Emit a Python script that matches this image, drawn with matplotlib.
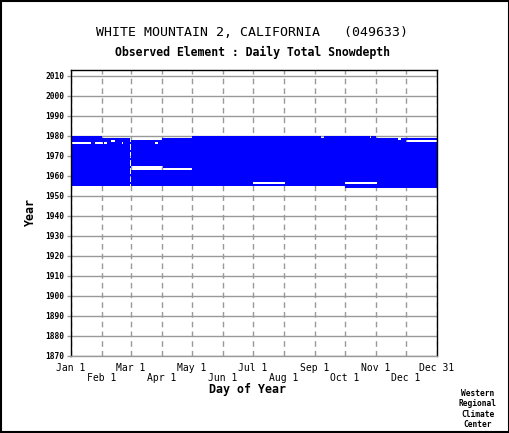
import calendar
import numpy as np
import matplotlib
matplotlib.use("Agg")
import matplotlib.pyplot as plt
from matplotlib.colors import ListedColormap
from matplotlib.patches import Rectangle

# period of record (day-of-year on a 366 day axis)
first_year = 1954
first_day = 275      # Oct 1 1954
last_year = 1979

# missing stretches: year, first day, last day
gap_year = [1956, 1956, 1963, 1964, 1976, 1976, 1976, 1976, 1976,
            1977, 1977, 1978, 1978, 1979, 1979, 1979, 1979]
gap_start = [183, 275, 61, 61, 1, 25, 34, 52, 85,
             41, 336, 61, 328, 32, 251, 300, 306]
gap_end = [214, 306, 121, 92, 20, 32, 36, 52, 87,
           44, 366, 91, 330, 121, 253, 300, 366]

month_days = [1, 32, 61, 92, 122, 153, 183, 214, 245, 275, 306, 336, 367]
month_labels = ["Jan 1", "\nFeb 1", "Mar 1", "\nApr 1", "May 1", "\nJun 1",
                "Jul 1", "\nAug 1", "Sep 1", "\nOct 1", "Nov 1", "\nDec 1", "Dec 31"]
year_ticks = list(range(1870, 2011, 10))

W, H = 510, 433
MONO = "DejaVu Sans Mono"


def fx(px):
	return px / W


def fy(py):
	return 1 - py / H


# coverage grid: 1 = observed, 0 = missing
n_years = last_year - first_year + 1
cover = np.ones((n_years, 366))
cover[0, :first_day - 1] = 0
for i in range(n_years):
	if not calendar.isleap(first_year + i):
		cover[i, 59] = 0   # no Feb 29
for y, s, e in zip(gap_year, gap_start, gap_end):
	cover[y - first_year, s - 1:e] = 0
cover = np.ma.masked_equal(cover, 0)

fig = plt.figure(figsize=(W / 100, H / 100), dpi=100)
# outer frame round the whole picture
fig.patches.append(Rectangle((1 / W, 1 / H), 1 - 2 / W, 1 - 2 / H,
                             transform=fig.transFigure, fill=False,
                             edgecolor="black", lw=1.5))

ax = fig.add_axes([fx(71), fy(355.7), fx(437) - fx(71), (355.7 - 70) / H])
ax.imshow(cover, origin="lower", aspect="auto", interpolation="nearest",
          extent=(1, 367, first_year, last_year + 1),
          cmap=ListedColormap(["#0000ff"]), zorder=1)

ax.set_xlim(1, 367)
ax.set_ylim(1870, 2012.85)
ax.set_axisbelow(True)

ax.set_yticks(year_ticks)
ax.set_yticklabels([str(y) for y in year_ticks], fontfamily=MONO,
                   fontweight="bold", fontsize=5.7)
ax.set_xticks(month_days)
ax.set_xticklabels(month_labels, fontfamily=MONO, fontsize=7, linespacing=1.0)

ax.yaxis.grid(True, color="#999999", lw=1, ls="-")
ax.xaxis.grid(True, color="#999999", lw=1, ls=(0, (4, 3)))
ax.tick_params(axis="y", length=2.9, width=1, color="#999999", pad=2)
ax.tick_params(axis="x", length=0, pad=5.5)

for side in ["left", "right", "top"]:
	ax.spines[side].set_color("black")
	ax.spines[side].set_linewidth(1)
ax.spines["bottom"].set_color("#999999")
ax.spines["bottom"].set_linewidth(1)

fig.text(fx(252), fy(33), "WHITE MOUNTAIN 2, CALIFORNIA   (049633)",
         fontfamily=MONO, fontsize=9.5, ha="center", va="center")
fig.text(fx(252.5), fy(52), "Observed Element : Daily Total Snowdepth",
         fontfamily=MONO, fontsize=8.3, fontweight="bold", ha="center", va="center")
fig.text(fx(247.5), fy(390), "Day of Year", fontfamily=MONO, fontsize=8.4,
         fontweight="bold", ha="center", va="center")
fig.text(fx(30), fy(212), "Year", fontfamily=MONO, fontsize=8.4,
         fontweight="bold", rotation=90, ha="center", va="center")
fig.text(fx(478), fy(409), "Western\nRegional\nClimate\nCenter", fontfamily=MONO,
         fontsize=5.7, fontweight="bold", ha="center", va="center", linespacing=1.2)

fig.savefig("out.png", dpi=100)
